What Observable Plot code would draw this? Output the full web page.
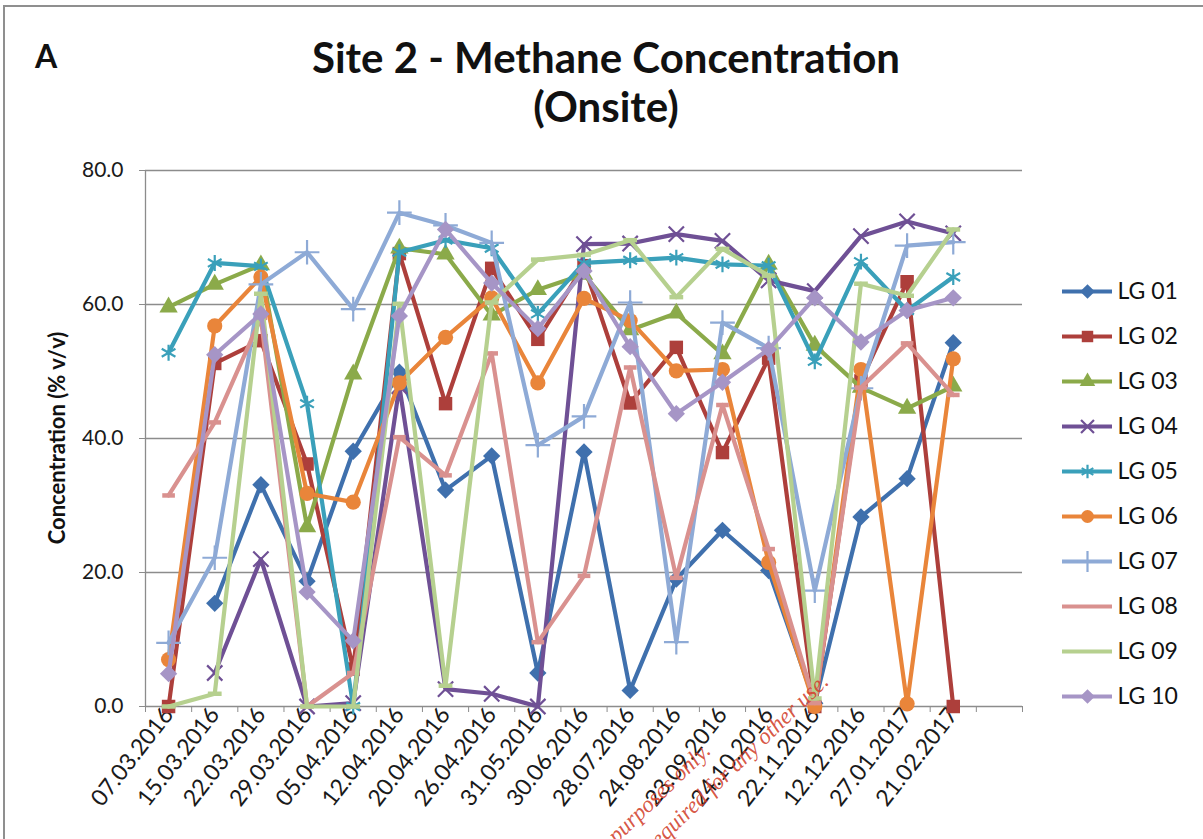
<!DOCTYPE html>
<html>
<head>
<meta charset="utf-8">
<script src="https://cdn.jsdelivr.net/npm/d3@7"></script>
<script src="https://cdn.jsdelivr.net/npm/@observablehq/plot@0.6"></script>
<style>
  html, body { margin: 0; padding: 0; background: #fff; }
  #wrap { position: relative; width: 1203px; height: 839px; overflow: hidden; background: #fff; font-family: Lato, "Open Sans", sans-serif; color: #111; }
  #frame { position: absolute; left: 3px; top: 5px; width: 1400px; height: 1000px; border-top: 2px solid #8f8f8f; border-left: 2px solid #8f8f8f; }
  #letter { position: absolute; left: 35px; top: 36px; font-size: 32px; font-weight: 700; }
  .title { position: absolute; left: 0; width: 1212px; text-align: center; font-size: 42px; font-weight: 700; line-height: 1; }
  #ylabel { position: absolute; left: 56px; top: 438px; transform: translate(-50%, -50%) rotate(-90deg); white-space: nowrap; font-size: 22px; font-weight: 700; }
  #chart { position: absolute; left: 0; top: 0; }
  #legend { position: absolute; left: 1060px; top: 268px; }
  #wm { position: absolute; left: 0; top: 0; pointer-events: none; }
</style>
</head>
<body>
<div id="wrap">
  <div id="frame"></div>
  <div id="chart"></div>
  <div id="letter">A</div>
  <div class="title" style="top:36px">Site 2 - Methane Concentration</div>
  <div class="title" style="top:85px">(Onsite)</div>
  <div id="ylabel">Concentration (% v/v)</div>
  <div id="legend"></div>
  <svg id="wm" width="1203" height="839">
    <g font-family="'Liberation Serif', serif" font-style="italic" font-size="23" fill="#d2432e" fill-opacity="0.9">
      <text text-anchor="end" transform="translate(712,752) rotate(-44)">For review purposes only.</text>
      <text text-anchor="end" transform="translate(830,683) rotate(-44)">Permission required for any other use.</text>
    </g>
  </svg>
</div>
<script>
// ---- data ----
const dates = ["07.03.2016","15.03.2016","22.03.2016","29.03.2016","05.04.2016","12.04.2016","20.04.2016","26.04.2016","31.05.2016","30.06.2016","28.07.2016","24.08.2016","23.09.2016","24.10.2016","22.11.2016","12.12.2016","27.01.2017","21.02.2017"];
const series = ["LG 01","LG 02","LG 03","LG 04","LG 05","LG 06","LG 07","LG 08","LG 09","LG 10"];
const lg01 = [null,15.4,33.1,18.7,38.1,49.9,32.3,37.4,5.0,38.0,2.4,19.0,26.3,20.3,0.5,28.3,34.0,54.3];
const lg02 = [0,51.2,54.6,36.2,5.6,67.6,45.2,65.4,54.8,65.8,45.3,53.6,37.9,52.0,0,48.6,63.4,0];
const lg03 = [59.6,63.0,65.9,26.8,49.6,68.4,67.5,58.4,62.2,64.5,56.2,58.7,52.6,66.0,53.9,47.6,44.5,47.8];
const lg04 = [null,5.0,22.0,0,0.5,47.8,2.6,1.9,0,69.0,69.1,70.5,69.5,63.6,62.0,70.2,72.4,70.6];
const lg05 = [52.8,66.2,65.7,45.2,0,67.8,69.6,68.4,58.6,66.2,66.6,67.0,66.0,65.8,51.5,66.4,59.1,64.1];
const lg06 = [7.0,56.8,64.1,31.8,30.5,48.3,55.1,61.0,48.3,60.9,57.6,50.1,50.3,21.5,0,50.3,0.4,51.9];
const lg07 = [9.5,22.2,63.0,67.8,59.3,73.7,71.8,69.2,39.0,43.3,60.3,9.6,57.3,53.5,17.3,47.5,68.8,69.3];
const lg08 = [31.5,42.4,58.0,0,5.0,40.2,34.5,52.7,9.6,19.5,50.6,19.2,45.0,23.5,0.5,47.6,54.2,46.5];
const lg09 = [0,1.9,61.6,0,0,60.1,3.1,60.3,66.7,67.4,69.6,61.1,68.3,64.3,1.2,63.1,61.3,71.2];
const lg10 = [4.9,52.5,58.6,17.1,9.8,58.3,71.2,63.2,56.4,65.0,53.7,43.7,48.4,53.3,61.0,54.4,59.1,61.0];
const yTicks = [0, 20, 40, 60, 80];

// ---- styles ----
const values = [lg01, lg02, lg03, lg04, lg05, lg06, lg07, lg08, lg09, lg10];
const colors = ["#3f70ad","#ad3f3b","#8baa4a","#6f5095","#3aa0ba","#e9853a","#8eaad6","#d9918f","#b6d08f","#a695c6"];
const dash = { draw(ctx, size) { const w = Math.sqrt(size) * 1.05, h = 4.5; ctx.rect(-w / 2, -h / 2, w, h); } };
const markers = [
  { symbol: "diamond2", filled: true, r: 7.8 },
  { symbol: "square", filled: true, r: 7.6 },
  { symbol: "triangle", filled: true, r: 6.8 },
  { symbol: "times", filled: false, r: 7 },
  { symbol: "asterisk", filled: false, r: 7.5 },
  { symbol: "circle", filled: true, r: 7.6 },
  { symbol: "plus", filled: false, r: 8 },
  { symbol: dash, filled: true, r: 6.8 },
  { symbol: dash, filled: true, r: 7.4 },
  { symbol: "diamond2", filled: true, r: 7.8 }
];

const rows = series.flatMap((s, k) => dates.map((d, i) => ({ series: s, i, v: values[k][i] })));

function dotFor(k, data, x, y, scale = 1) {
  const m = markers[k];
  return Plot.dot(data, {
    x, y, symbol: m.symbol, r: m.r * scale,
    fill: m.filled ? colors[k] : "none",
    stroke: m.filled ? "none" : colors[k],
    strokeWidth: m.filled ? 0 : 2.2
  });
}

const gray = "#8c8c8c";
const marks = [
  Plot.gridY(yTicks.filter(t => t > 0), { stroke: gray, strokeOpacity: 1, strokeWidth: 1.3 }),
  Plot.axisY({ ticks: yTicks, tickFormat: d => d.toFixed(1), tickSize: 6, tickPadding: 16, fontSize: 21, stroke: gray, fill: "#1a1a1a", label: null }),
  Plot.axisX({ ticks: d3.range(dates.length + 2).map(k => k - 0.5), tickFormat: () => "", tickSize: 6, stroke: gray, label: null }),
  Plot.axisX({ ticks: d3.range(dates.length), tickFormat: i => dates[i], tickRotate: -52, tickSize: 0, tickPadding: 4, fontSize: 23, fill: "#1a1a1a", label: null }),
  Plot.ruleX([-0.5], { stroke: gray, strokeWidth: 1.3 }),
  Plot.ruleY([0], { stroke: gray, strokeWidth: 1.3 })
];
series.forEach((s, k) => {
  const data = rows.filter(r => r.series === s);
  marks.push(Plot.line(data, { x: "i", y: "v", stroke: colors[k], strokeWidth: 4.2, curve: "linear" }));
  marks.push(dotFor(k, data.filter(r => r.v != null), "i", "v"));
});

const chart = Plot.plot({
  width: 1203, height: 839,
  marginLeft: 145, marginRight: 181, marginTop: 170, marginBottom: 133,
  style: { fontFamily: "Lato, 'Open Sans', sans-serif", background: "transparent", color: "#1a1a1a" },
  x: { type: "linear", domain: [-0.5, dates.length + 0.5], label: null, axis: null },
  y: { domain: [0, 80], label: null, axis: null },
  marks
});
document.getElementById("chart").appendChild(chart);

// ---- legend ----
const legMarks = [];
series.forEach((s, k) => {
  legMarks.push(Plot.ruleY([s], { y: d => d, x1: 2, x2: 52, stroke: colors[k], strokeWidth: 4.2 }));
  if (k !== 7 && k !== 8) legMarks.push(dotFor(k, [s], () => 27, d => d, 0.85));
});
legMarks.push(Plot.text(series, { x: 57, y: d => d, text: d => d, textAnchor: "start", fontSize: 23, fill: "#111" }));
const legend = Plot.plot({
  width: 143, height: 450, margin: 0,
  style: { fontFamily: "Lato, 'Open Sans', sans-serif", background: "transparent" },
  x: { type: "linear", domain: [0, 143], range: [0, 143], axis: null },
  y: { type: "point", domain: series, range: [20, 430], padding: 0, axis: null },
  marks: legMarks
});
document.getElementById("legend").appendChild(legend);
</script>
</body>
</html>
